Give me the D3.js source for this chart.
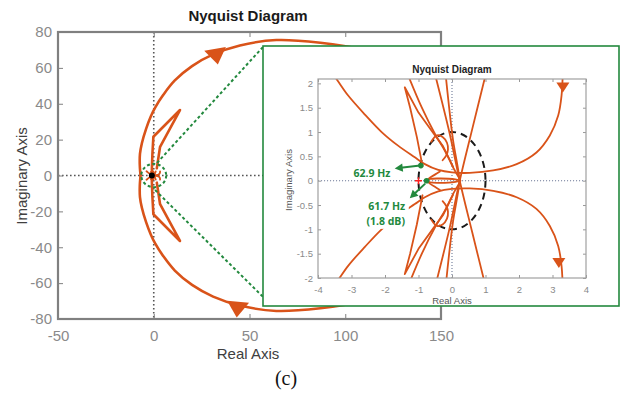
<!DOCTYPE html>
<html>
<head>
<meta charset="utf-8">
<script src="https://cdn.jsdelivr.net/npm/d3@7"></script>
<style>
	body { margin: 0; background: #fff; }
	svg { display: block; }
</style>
</head>
<body>
<svg id="chart" width="627" height="397"></svg>
<script>
// ---- values (upper half; the lower half is its mirror image) ----

// main view : outer arc and the thin petal
var arcRe = [ -6.9, -7.3, -7.2, -6.2, -4.0, -1.5, 0.8, 5, 11, 20, 31, 45, 64, 87, 110, 135 ];
var arcIm = [ 0, 6, 12, 18, 26, 33, 38, 45, 53, 61, 67.5, 72.5, 75.5, 74, 70, 62 ];
var petalRe = [ -1.0, -0.7, -0.2, 13.7, 3.3, 1.6 ];
var petalIm = [ 3, 12, 21.6, 36.5, 16, 4 ];

// zoomed view : curves around -1
var uRe = [ -3.8, -3.45, -3.1, -2.6, -2.1, -1.61, -1.11, -0.81, -0.41, 0.0, 0.53, 1.23, 1.93, 2.52, 2.92, 3.17, 3.27, 3.31 ];
var uIm = [ 2.4, 2.09, 1.75, 1.36, 1.0, 0.72, 0.48, 0.34, 0.22, 0.17, 0.16, 0.21, 0.34, 0.58, 0.93, 1.34, 1.75, 2.3 ];
var pRe = [ -0.88, -1.05, -1.25, -1.41, -1.0, -0.56, -0.27, 0.03 ];
var pIm = [ 0.3, 0.9, 1.5, 1.92, 1.4, 0.98, 0.71, 0.29 ];
var tRe = [ -1.36, -0.9, -0.5, -0.2, 0.05, 0.22 ];
var tIm = [ 2.25, 1.5, 0.95, 0.6, 0.25, 0.05 ];
var xlRe = [ 1.03, 0.6, 0.23, -0.07, -0.53 ];
var xlIm = [ 2.25, 1.05, 0, -0.97, -2.25 ];
var dRe = [ -0.2, -0.09, 0.03, 0.14, 0.2, 0.22 ];
var dIm = [ 2.25, 1.53, 0.84, 0.4, 0.15, 0 ];
var loopRe = [ -0.62, -0.45, -0.28, -0.15, -0.12, -0.17, -0.28 ];
var loopIm = [ 0.8, 0.93, 0.9, 0.78, 0.64, 0.52, 0.42 ];
var axRe = [ -0.76, -0.65, -0.4, -0.1, 0.1, 0.25 ];
var axIm = [ 0, 0.035, 0.045, 0.04, 0.025, 0 ];
var fishRe = [ -0.76, -0.66, -0.5, -0.36 ];
var fishIm = [ 0, 0.06, 0.13, 0.19 ];

// direction arrows [re, im, screen angle]
var mainArrows = [ [ 32.5, 67.7, 80 ], [ 43.8, -73.3, 95 ] ];
var zoomArrows = [ [ 3.31, 1.95, 90 ], [ 3.19, -1.66, 90 ] ];

// marked points of the zoomed view
var gainPoint = [ -0.93, 0.31 ];
var phasePoint = [ -0.76, 0 ];
var critical = [ -1, 0 ];

// zoom circle and the links to the inset
var focusR = 6.5;
var linkTopRe = [ 1.7, 57 ], linkTopIm = [ 7, 71.6 ];
var linkBotRe = [ 0.7, 57 ], linkBotIm = [ -8.1, -67.6 ];

var xTicksMain = [ -50, 0, 50, 100, 150 ];
var yTicksMain = [ -80, -60, -40, -20, 0, 20, 40, 60, 80 ];
var xTicksZoom = [ -4, -3, -2, -1, 0, 1, 2, 3, 4 ];
var yTicksZoom = [ -2, -1.5, -1, -0.5, 0, 0.5, 1, 1.5, 2 ];

// ---- drawing ----

var ORANGE = '#d95319', GREEN = '#23893e';
var SANS = '"Liberation Sans", Arial, Helvetica, sans-serif';

var svg = d3.select( '#chart' );
var defs = svg.append( 'defs' );

function pairs( re, im ) {
	return re.map( function ( r, i ) { return [ r, im[i] ]; } );
}

function withMirror( list ) {
	return list.concat( list.map( function ( c ) {
		return { p: c.p.map( function ( d ) { return [ d[0], -d[1] ]; } ), smooth: c.smooth };
	} ) );
}

var mainSet = withMirror( [
	{ p: pairs( arcRe, arcIm ), smooth: true },
	{ p: pairs( petalRe, petalIm ), smooth: false }
] );

var zoomSet = withMirror( [
	{ p: pairs( uRe, uIm ), smooth: true },
	{ p: pairs( pRe, pIm ), smooth: false },
	{ p: pairs( tRe, tIm ), smooth: true },
	{ p: pairs( xlRe, xlIm ), smooth: true },
	{ p: pairs( dRe, dIm ), smooth: true },
	{ p: pairs( loopRe, loopIm ), smooth: true },
	{ p: pairs( axRe, axIm ), smooth: true },
	{ p: pairs( fishRe, fishIm ), smooth: true }
] );

function drawCurves( g, set, sx, sy, width ) {
	var smooth = d3.line()
		.x( function ( d ) { return sx( d[0] ); } )
		.y( function ( d ) { return sy( d[1] ); } )
		.curve( d3.curveCatmullRom.alpha( 0.5 ) );
	var straight = d3.line()
		.x( function ( d ) { return sx( d[0] ); } )
		.y( function ( d ) { return sy( d[1] ); } );
	g.selectAll( null ).data( set ).enter().append( 'path' )
		.attr( 'd', function ( c ) { return ( c.smooth ? smooth : straight )( c.p ); } )
		.attr( 'fill', 'none' )
		.attr( 'stroke', ORANGE )
		.attr( 'stroke-width', width )
		.attr( 'stroke-linejoin', 'round' )
		.attr( 'stroke-linecap', 'round' );
}

function drawArrows( g, list, sx, sy, len, wid, color ) {
	g.selectAll( null ).data( list ).enter().append( 'path' )
		.attr( 'd', 'M' + ( len * 2 / 3 ) + ',0L' + ( -len / 3 ) + ',' + ( wid / 2 ) + 'L' + ( -len / 3 ) + ',' + ( -wid / 2 ) + 'Z' )
		.attr( 'transform', function ( d ) { return 'translate(' + sx( d[0] ) + ',' + sy( d[1] ) + ') rotate(' + d[2] + ')'; } )
		.attr( 'fill', color );
}

function clip( id, b ) {
	defs.append( 'clipPath' ).attr( 'id', id ).append( 'rect' )
		.attr( 'x', b.left ).attr( 'y', b.top )
		.attr( 'width', b.right - b.left ).attr( 'height', b.bottom - b.top );
}

function fmt( d ) { return String( d ); }

function styleAxis( g, color, size ) {
	g.select( '.domain' ).remove();
	g.selectAll( 'line' ).attr( 'stroke', color );
	g.selectAll( 'text' ).attr( 'fill', '#8a8a8a' ).style( 'font-family', SANS ).style( 'font-size', size + 'px' );
}

// ---------- main view ----------
var main = { left: 58, right: 441, top: 32, bottom: 319 };
var x = d3.scaleLinear().domain( [ -50, 150 ] ).range( [ main.left, main.right ] );
var y = d3.scaleLinear().domain( [ -80, 80 ] ).range( [ main.bottom, main.top ] );
clip( 'clipMain', main );

var mg = svg.append( 'g' );
var mPlot = mg.append( 'g' ).attr( 'clip-path', 'url(#clipMain)' );

mPlot.append( 'line' )
	.attr( 'x1', x( 0 ) ).attr( 'x2', x( 0 ) ).attr( 'y1', main.top ).attr( 'y2', main.bottom )
	.attr( 'stroke', '#555' ).attr( 'stroke-width', 1.6 ).attr( 'stroke-dasharray', '1.6,2.4' );
mPlot.append( 'line' )
	.attr( 'x1', main.left ).attr( 'x2', main.right ).attr( 'y1', y( 0 ) ).attr( 'y2', y( 0 ) )
	.attr( 'stroke', '#555' ).attr( 'stroke-width', 1.6 ).attr( 'stroke-dasharray', '1.6,2.4' );

drawCurves( mPlot, mainSet, x, y, 2.6 );
drawCurves( mPlot, zoomSet, x, y, 1.8 );
drawArrows( mPlot, mainArrows, x, y, 16, 22, ORANGE );

mPlot.append( 'circle' )
	.attr( 'cx', x( critical[0] ) ).attr( 'cy', y( critical[1] ) ).attr( 'r', 3 )
	.attr( 'fill', '#000' );

var gxb = mg.append( 'g' ).attr( 'transform', 'translate(0,' + main.bottom + ')' )
	.call( d3.axisBottom( x ).tickValues( xTicksMain ).tickFormat( fmt ).tickSizeInner( -5 ).tickSizeOuter( 0 ).tickPadding( 11 ) );
styleAxis( gxb, '#808080', 15 );
var gxt = mg.append( 'g' ).attr( 'transform', 'translate(0,' + main.top + ')' )
	.call( d3.axisTop( x ).tickValues( xTicksMain ).tickFormat( '' ).tickSizeInner( -5 ).tickSizeOuter( 0 ) );
styleAxis( gxt, '#808080', 15 );
var gyl = mg.append( 'g' ).attr( 'transform', 'translate(' + main.left + ',0)' )
	.call( d3.axisLeft( y ).tickValues( yTicksMain ).tickFormat( fmt ).tickSizeInner( -5 ).tickSizeOuter( 0 ).tickPadding( 6 ) );
styleAxis( gyl, '#808080', 15 );

mg.append( 'rect' )
	.attr( 'x', main.left ).attr( 'y', main.top )
	.attr( 'width', main.right - main.left ).attr( 'height', main.bottom - main.top )
	.attr( 'fill', 'none' ).attr( 'stroke', '#808080' ).attr( 'stroke-width', 2.2 );

// zoom marker and links
mg.append( 'ellipse' )
	.attr( 'cx', x( 0 ) ).attr( 'cy', y( 0 ) )
	.attr( 'rx', x( focusR ) - x( 0 ) ).attr( 'ry', y( 0 ) - y( focusR ) )
	.attr( 'fill', 'none' ).attr( 'stroke', GREEN ).attr( 'stroke-width', 2 ).attr( 'stroke-dasharray', '3,2.5' );
[ [ linkTopRe, linkTopIm ], [ linkBotRe, linkBotIm ] ].forEach( function ( l ) {
	mg.append( 'line' )
		.attr( 'x1', x( l[0][0] ) ).attr( 'y1', y( l[1][0] ) )
		.attr( 'x2', x( l[0][1] ) ).attr( 'y2', y( l[1][1] ) )
		.attr( 'stroke', GREEN ).attr( 'stroke-width', 2 ).attr( 'stroke-dasharray', '3,2.5' );
} );

mg.append( 'text' ).text( 'Nyquist Diagram' )
	.attr( 'x', 248 ).attr( 'y', 21 ).attr( 'text-anchor', 'middle' )
	.style( 'font-family', SANS ).style( 'font-size', '15px' ).style( 'font-weight', 'bold' ).attr( 'fill', '#1a1a1a' );
mg.append( 'text' ).text( 'Real Axis' )
	.attr( 'x', 248 ).attr( 'y', 359 ).attr( 'text-anchor', 'middle' )
	.style( 'font-family', SANS ).style( 'font-size', '15px' ).attr( 'fill', '#404040' );
mg.append( 'text' ).text( 'Imaginary Axis' )
	.attr( 'transform', 'translate(27,176) rotate(-90)' ).attr( 'text-anchor', 'middle' )
	.style( 'font-family', SANS ).style( 'font-size', '15px' ).attr( 'fill', '#404040' );
mg.append( 'text' ).text( '(c)' )
	.attr( 'x', 286 ).attr( 'y', 385 ).attr( 'text-anchor', 'middle' )
	.style( 'font-family', '"Liberation Serif", "Times New Roman", serif' ).style( 'font-size', '20px' ).attr( 'fill', '#111' );

// ---------- inset ----------
var frame = { left: 263, right: 619, top: 46, bottom: 306 };
var zoom = { left: 318, right: 586, top: 79, bottom: 278 };
var zx = d3.scaleLinear().domain( [ -4, 4 ] ).range( [ zoom.left, zoom.right ] );
var zy = d3.scaleLinear().domain( [ -2, 2.09 ] ).range( [ zoom.bottom, zoom.top ] );
clip( 'clipZoom', zoom );

var ig = svg.append( 'g' );
ig.append( 'rect' )
	.attr( 'x', frame.left ).attr( 'y', frame.top )
	.attr( 'width', frame.right - frame.left ).attr( 'height', frame.bottom - frame.top )
	.attr( 'fill', '#fff' ).attr( 'stroke', GREEN ).attr( 'stroke-width', 1.6 );

var zPlot = ig.append( 'g' ).attr( 'clip-path', 'url(#clipZoom)' );
zPlot.append( 'line' )
	.attr( 'x1', zx( 0 ) ).attr( 'x2', zx( 0 ) ).attr( 'y1', zoom.top ).attr( 'y2', zoom.bottom )
	.attr( 'stroke', '#6c7896' ).attr( 'stroke-width', 1.1 ).attr( 'stroke-dasharray', '1.1,1.9' );
zPlot.append( 'line' )
	.attr( 'x1', zoom.left ).attr( 'x2', zoom.right ).attr( 'y1', zy( 0 ) ).attr( 'y2', zy( 0 ) )
	.attr( 'stroke', '#6c7896' ).attr( 'stroke-width', 1.1 ).attr( 'stroke-dasharray', '1.1,1.9' );

zPlot.append( 'ellipse' )
	.attr( 'cx', zx( 0 ) ).attr( 'cy', zy( 0 ) )
	.attr( 'rx', zx( 1 ) - zx( 0 ) ).attr( 'ry', zy( 0 ) - zy( 1 ) )
	.attr( 'fill', 'none' ).attr( 'stroke', '#1a1a1a' ).attr( 'stroke-width', 2 ).attr( 'stroke-dasharray', '7,5' );

drawCurves( zPlot, zoomSet, zx, zy, 1.8 );
drawArrows( zPlot, zoomArrows, zx, zy, 10, 13, ORANGE );

// white box under the lower label
zPlot.append( 'rect' )
	.attr( 'x', zx( -2.64 ) ).attr( 'y', zy( -0.37 ) )
	.attr( 'width', zx( -1.29 ) - zx( -2.64 ) ).attr( 'height', zy( -0.99 ) - zy( -0.37 ) )
	.attr( 'fill', '#fff' );

// critical point and margins
var cpx = zx( critical[0] ), cpy = zy( critical[1] );
zPlot.append( 'path' )
	.attr( 'd', 'M' + ( cpx - 3.5 ) + ',' + cpy + 'H' + ( cpx + 3.5 ) + 'M' + cpx + ',' + ( cpy - 3.5 ) + 'V' + ( cpy + 3.5 ) )
	.attr( 'stroke', '#ff2020' ).attr( 'stroke-width', 1.5 );
zPlot.selectAll( null ).data( [ gainPoint, phasePoint ] ).enter().append( 'circle' )
	.attr( 'cx', function ( d ) { return zx( d[0] ); } )
	.attr( 'cy', function ( d ) { return zy( d[1] ); } )
	.attr( 'r', 2.8 ).attr( 'fill', GREEN );

var notes = [
	{ from: [ -0.95, 0.31 ], to: [ -1.71, 0.25 ] },
	{ from: [ -0.8, -0.06 ], to: [ -1.26, -0.36 ] }
];
notes.forEach( function ( n ) {
	var x1 = zx( n.from[0] ), y1 = zy( n.from[1] ), x2 = zx( n.to[0] ), y2 = zy( n.to[1] );
	var ang = Math.atan2( y2 - y1, x2 - x1 ) * 180 / Math.PI;
	var back = 6;
	var bx = x2 - back * Math.cos( ang * Math.PI / 180 ), by = y2 - back * Math.sin( ang * Math.PI / 180 );
	zPlot.append( 'line' ).attr( 'x1', x1 ).attr( 'y1', y1 ).attr( 'x2', bx ).attr( 'y2', by )
		.attr( 'stroke', GREEN ).attr( 'stroke-width', 2 );
	zPlot.append( 'path' )
		.attr( 'd', 'M0,0L-8,4.2L-8,-4.2Z' )
		.attr( 'transform', 'translate(' + x2 + ',' + y2 + ') rotate(' + ang + ')' )
		.attr( 'fill', GREEN );
} );

var labels = [
	{ t: '62.9 Hz', at: [ -2.39, 0.16 ] },
	{ t: '61.7 Hz', at: [ -1.95, -0.53 ] },
	{ t: '(1.8 dB)', at: [ -1.98, -0.835 ] }
];
zPlot.selectAll( null ).data( labels ).enter().append( 'text' )
	.text( function ( d ) { return d.t; } )
	.attr( 'x', function ( d ) { return zx( d.at[0] ); } )
	.attr( 'y', function ( d ) { return zy( d.at[1] ) + 3.8; } )
	.attr( 'text-anchor', 'middle' )
	.style( 'font-family', '"Open Sans", "Noto Sans", sans-serif' ).style( 'font-size', '10.5px' ).style( 'font-weight', 'bold' )
	.attr( 'fill', GREEN );

// inset axes
var zxb = ig.append( 'g' ).attr( 'transform', 'translate(0,' + zoom.bottom + ')' )
	.call( d3.axisBottom( zx ).tickValues( xTicksZoom ).tickFormat( fmt ).tickSizeInner( -3 ).tickSizeOuter( 0 ).tickPadding( 8 ) );
styleAxis( zxb, '#999', 9.5 );
var zxt = ig.append( 'g' ).attr( 'transform', 'translate(0,' + zoom.top + ')' )
	.call( d3.axisTop( zx ).tickValues( xTicksZoom ).tickFormat( '' ).tickSizeInner( -3 ).tickSizeOuter( 0 ) );
styleAxis( zxt, '#999', 9.5 );
var zyl = ig.append( 'g' ).attr( 'transform', 'translate(' + zoom.left + ',0)' )
	.call( d3.axisLeft( zy ).tickValues( yTicksZoom ).tickFormat( fmt ).tickSizeInner( -3 ).tickSizeOuter( 0 ).tickPadding( 5 ) );
styleAxis( zyl, '#999', 9.5 );
var zyr = ig.append( 'g' ).attr( 'transform', 'translate(' + zoom.right + ',0)' )
	.call( d3.axisRight( zy ).tickValues( yTicksZoom ).tickFormat( '' ).tickSizeInner( -3 ).tickSizeOuter( 0 ) );
styleAxis( zyr, '#999', 9.5 );

ig.append( 'rect' )
	.attr( 'x', zoom.left ).attr( 'y', zoom.top )
	.attr( 'width', zoom.right - zoom.left ).attr( 'height', zoom.bottom - zoom.top )
	.attr( 'fill', 'none' ).attr( 'stroke', '#a0a0a0' ).attr( 'stroke-width', 1.2 );

ig.append( 'text' ).text( 'Nyquist Diagram' )
	.attr( 'x', 452 ).attr( 'y', 72.5 ).attr( 'text-anchor', 'middle' )
	.style( 'font-family', SANS ).style( 'font-size', '10px' ).style( 'font-weight', 'bold' ).attr( 'fill', '#222' );
ig.append( 'text' ).text( 'Real Axis' )
	.attr( 'x', 452 ).attr( 'y', 304 ).attr( 'text-anchor', 'middle' )
	.style( 'font-family', SANS ).style( 'font-size', '9.5px' ).attr( 'fill', '#555' );
ig.append( 'text' ).text( 'Imaginary Axis' )
	.attr( 'transform', 'translate(291.5,180) rotate(-90)' ).attr( 'text-anchor', 'middle' )
	.style( 'font-family', SANS ).style( 'font-size', '9.5px' ).attr( 'fill', '#555' );
</script>
</body>
</html>
